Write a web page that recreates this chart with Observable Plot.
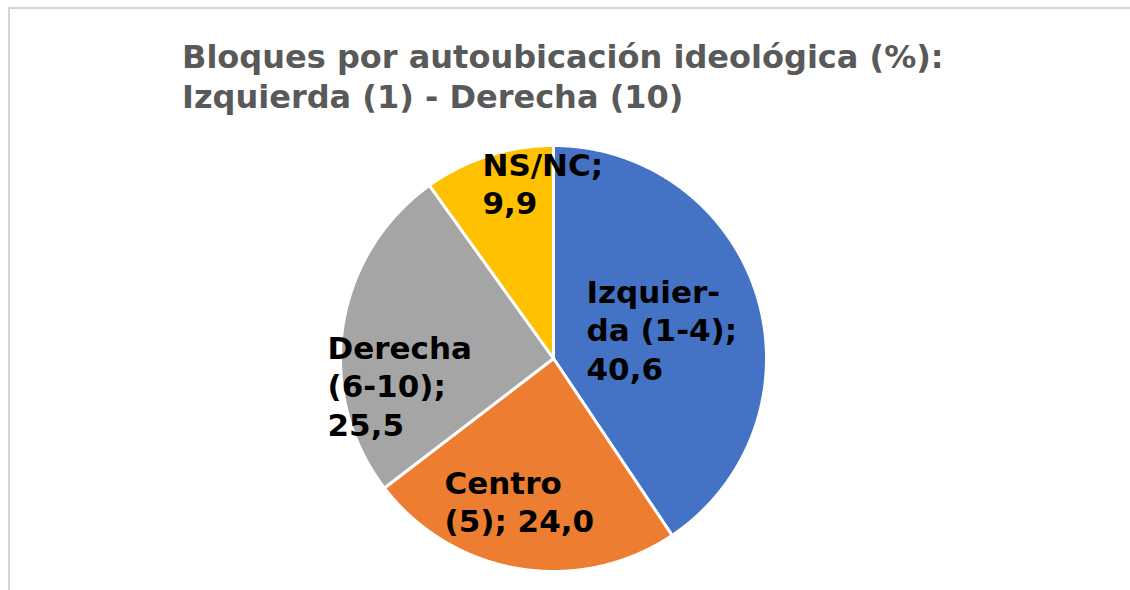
<!DOCTYPE html>
<html>
<head>
<meta charset="utf-8">
<script src="https://cdn.jsdelivr.net/npm/d3@7"></script>
<script src="https://cdn.jsdelivr.net/npm/@observablehq/plot@0.6"></script>
<style>
  html, body { margin: 0; padding: 0; background: #fff; }
  #wrap { position: relative; width: 1130px; height: 590px; overflow: hidden; font-family: "DejaVu Sans", sans-serif; }
  #frame { position: absolute; left: 8px; top: 7px; width: 1140px; height: 600px; border: 2px solid #d6d6d6; box-sizing: border-box; }
  #title { position: absolute; left: 182px; top: 37px; font-size: 32px; line-height: 40px; font-weight: bold; color: #595959; white-space: nowrap; }
  #chart { position: absolute; left: 0; top: 0; }
</style>
</head>
<body>
<div id="wrap">
  <div id="frame"></div>
  <div id="chart"></div>
  <div id="title">Bloques por autoubicación ideológica (%):<br>Izquierda (1) - Derecha (10)</div>
</div>
<script>
// Data
const categories = ["Izquierda (1-4)", "Centro (5)", "Derecha (6-10)", "NS/NC"];
const values = [40.6, 24.0, 25.5, 9.9];
const labelTexts = ["Izquier-\nda (1-4);\n40,6", "Centro\n(5); 24,0", "Derecha\n(6-10);\n25,5", "NS/NC;\n9,9"];
const colors = ["#4472C4", "#ED7D31", "#A5A5A5", "#FFC000"];

// Layout (pixels in the 1130x590 frame)
const W = 1130, H = 590;
const cx = 553, cy = 358, R = 213;
const fs = 31;
// label left x and first-line baseline, in pixels
const labelLeft = [586, 444, 327, 482];
const labelBase = [297, 488, 353, 170];

const pie = d3.pie().sort(null).value(d => d)(values);
const pts = [];
pie.forEach((s, i) => {
  const key = categories[i];
  pts.push({key, x: 0, y: 0});
  const n = Math.max(8, Math.ceil((s.endAngle - s.startAngle) / 0.005));
  for (let k = 0; k <= n; k++) {
    const a = s.startAngle + (s.endAngle - s.startAngle) * k / n;
    pts.push({key, x: Math.sin(a), y: Math.cos(a)});
  }
  pts.push({key, x: 0, y: 0});
});

const labels = categories.map((c, i) => ({
  key: c,
  text: labelTexts[i],
  x: (labelLeft[i] - cx) / R,
  y: (cy - (labelBase[i] - 0.71 * fs)) / R
}));

const plot = Plot.plot({
  width: W,
  height: H,
  margin: 0,
  x: {domain: [(0 - cx) / R, (W - cx) / R], axis: null},
  y: {domain: [(cy - H) / R, cy / R], axis: null},
  color: {domain: categories, range: colors},
  style: {background: "transparent", fontFamily: "DejaVu Sans, sans-serif"},
  marks: [
    Plot.line(pts, {x: "x", y: "y", z: "key", fill: "key", stroke: "white", strokeWidth: 3, strokeLinejoin: "round", curve: "linear"}),
    Plot.text(labels, {x: "x", y: "y", text: "text", textAnchor: "start", lineAnchor: "top", lineHeight: 1.24, fontSize: fs, fontWeight: "bold", fill: "black"})
  ]
});
document.getElementById("chart").appendChild(plot);
</script>
</body>
</html>
